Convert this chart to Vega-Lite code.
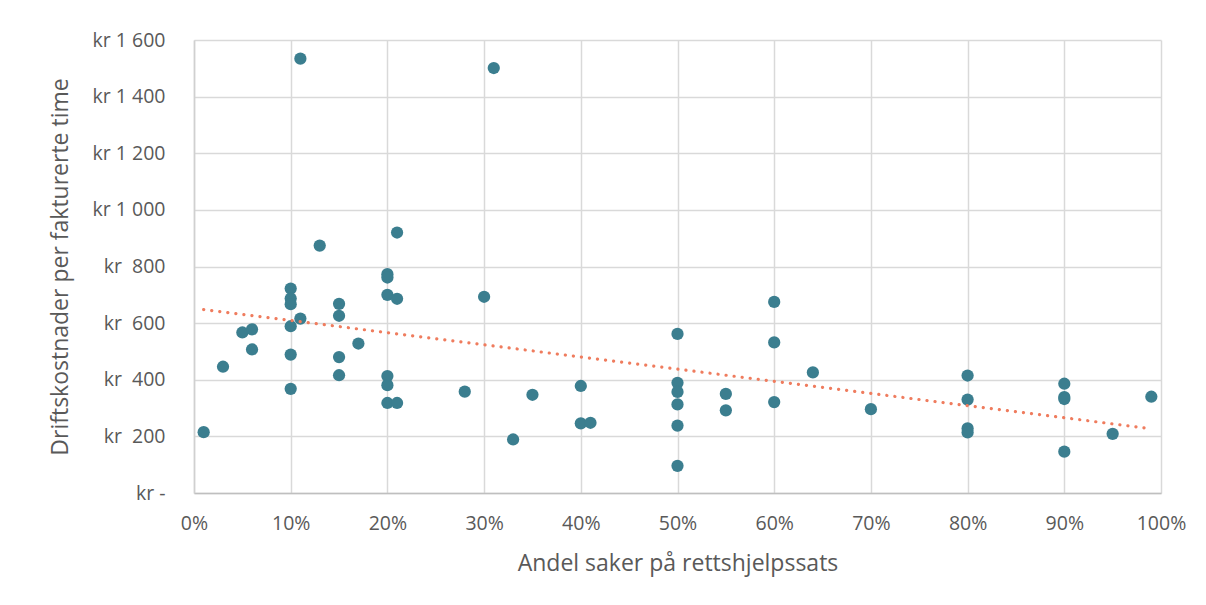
{
  "$schema": "https://vega.github.io/schema/vega-lite/v6.json",
  "width": 967,
  "height": 453,
  "autosize": {"type": "none"},
  "padding": {"left": 194, "top": 40, "right": 45, "bottom": 112},
  "background": "white",
  "config": {"view": {"stroke": null}, "font": "Open Sans, sans-serif"},
  "datasets": {
    "points": [
      {"andel": 0.01, "kost": 215},
      {"andel": 0.03, "kost": 446},
      {"andel": 0.05, "kost": 567},
      {"andel": 0.06, "kost": 578},
      {"andel": 0.06, "kost": 507},
      {"andel": 0.10, "kost": 722},
      {"andel": 0.10, "kost": 687},
      {"andel": 0.10, "kost": 667},
      {"andel": 0.10, "kost": 589},
      {"andel": 0.10, "kost": 489},
      {"andel": 0.10, "kost": 368},
      {"andel": 0.11, "kost": 616},
      {"andel": 0.11, "kost": 1534},
      {"andel": 0.13, "kost": 874},
      {"andel": 0.15, "kost": 668},
      {"andel": 0.15, "kost": 626},
      {"andel": 0.15, "kost": 480},
      {"andel": 0.15, "kost": 416},
      {"andel": 0.17, "kost": 528},
      {"andel": 0.20, "kost": 773},
      {"andel": 0.20, "kost": 761},
      {"andel": 0.20, "kost": 700},
      {"andel": 0.20, "kost": 413},
      {"andel": 0.20, "kost": 381},
      {"andel": 0.20, "kost": 318},
      {"andel": 0.21, "kost": 686},
      {"andel": 0.21, "kost": 920},
      {"andel": 0.21, "kost": 318},
      {"andel": 0.28, "kost": 358},
      {"andel": 0.30, "kost": 693},
      {"andel": 0.31, "kost": 1501},
      {"andel": 0.33, "kost": 189},
      {"andel": 0.35, "kost": 347},
      {"andel": 0.40, "kost": 378},
      {"andel": 0.40, "kost": 246},
      {"andel": 0.41, "kost": 248},
      {"andel": 0.50, "kost": 562},
      {"andel": 0.50, "kost": 389},
      {"andel": 0.50, "kost": 357},
      {"andel": 0.50, "kost": 313},
      {"andel": 0.50, "kost": 238},
      {"andel": 0.50, "kost": 96},
      {"andel": 0.55, "kost": 350},
      {"andel": 0.55, "kost": 292},
      {"andel": 0.60, "kost": 675},
      {"andel": 0.60, "kost": 532},
      {"andel": 0.60, "kost": 321},
      {"andel": 0.64, "kost": 426},
      {"andel": 0.70, "kost": 296},
      {"andel": 0.80, "kost": 415},
      {"andel": 0.80, "kost": 330},
      {"andel": 0.80, "kost": 228},
      {"andel": 0.80, "kost": 214},
      {"andel": 0.90, "kost": 386},
      {"andel": 0.90, "kost": 339},
      {"andel": 0.90, "kost": 332},
      {"andel": 0.90, "kost": 146},
      {"andel": 0.95, "kost": 209},
      {"andel": 0.99, "kost": 340}
    ],
    "trend": [
      {"andel": 0.01, "kost": 648},
      {"andel": 0.99, "kost": 227}
    ]
  },
  "layer": [
    {
      "data": {"name": "points"},
      "mark": {"type": "circle", "size": 150, "color": "#3b7e8f", "opacity": 1},
      "encoding": {
        "x": {
          "field": "andel", "type": "quantitative",
          "scale": {"domain": [0, 1], "nice": false, "zero": true},
          "axis": {
            "values": [0, 0.1, 0.2, 0.3, 0.4, 0.5, 0.6, 0.7, 0.8, 0.9, 1],
            "format": ".0%",
            "grid": true, "gridColor": "#d9d9d9", "gridWidth": 1.5,
            "domain": true, "domainColor": "#bfbfbf", "domainWidth": 1.5,
            "ticks": false,
            "labelPadding": 21, "labelFontSize": 19.5, "labelColor": "#595959",
            "labelFlush": false,
            "title": "Andel saker på rettshjelpssats",
            "titleFontSize": 23, "titleFontWeight": "normal", "titleColor": "#595959",
            "titleY": 70, "titleX": 483.5, "titleBaseline": "middle", "titleAlign": "center"
          }
        },
        "y": {
          "field": "kost", "type": "quantitative",
          "scale": {"domain": [0, 1600], "nice": false},
          "axis": {
            "values": [0, 200, 400, 600, 800, 1000, 1200, 1400, 1600],
            "labelExpr": "datum.value == 0 ? 'kr -\u00a0\u00a0' : (datum.value >= 1000 ? 'kr ' + floor(datum.value / 1000) + ' ' + format(datum.value % 1000, '03d') : 'kr\u00a0\u00a0' + datum.value)",
            "grid": true, "gridColor": "#d9d9d9", "gridWidth": 1.5,
            "domain": true, "domainColor": "#d0d0d0", "domainWidth": 1.5,
            "ticks": false,
            "labelPadding": 29, "labelFontSize": 19.5, "labelColor": "#595959",
            "labelFlush": false,
            "title": "Driftskostnader per fakturerte time",
            "titleFontSize": 23, "titleFontWeight": "normal", "titleColor": "#595959",
            "titleAngle": 270, "titleX": -134, "titleY": 226.5,
            "titleBaseline": "middle", "titleAlign": "center"
          }
        }
      }
    },
    {
      "data": {"name": "trend"},
      "mark": {"type": "line", "color": "#ef7c5e", "strokeWidth": 3.2, "strokeDash": [0.1, 8], "strokeCap": "round"},
      "encoding": {
        "x": {"field": "andel", "type": "quantitative"},
        "y": {"field": "kost", "type": "quantitative"}
      }
    }
  ]
}
